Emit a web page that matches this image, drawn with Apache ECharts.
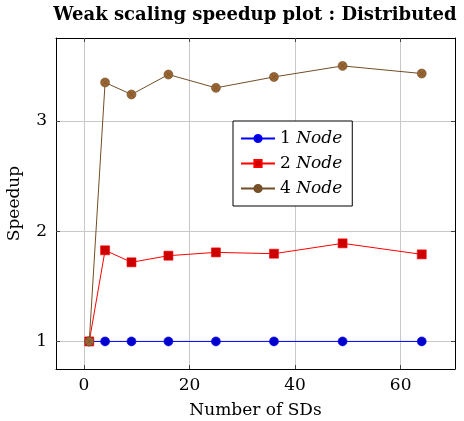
<!DOCTYPE html>
<html><head><meta charset="utf-8">
<script src="https://cdn.jsdelivr.net/npm/echarts@6/dist/echarts.min.js"></script>
<style>html,body{margin:0;padding:0;background:#fff}#c{width:464px;height:421px}</style>
</head><body><div id="c"></div>
<script>
const sds = [1, 4, 9, 16, 25, 36, 49, 64];
const node1 = [1, 1, 1, 1, 1, 1, 1, 1];
const node2 = [1, 1.826, 1.717, 1.777, 1.807, 1.795, 1.889, 1.789];
const node4 = [1, 3.347, 3.238, 3.419, 3.298, 3.397, 3.497, 3.428];
const xTicks = [0, 20, 40, 60];
const yTicks = [1, 2, 3];
const seriesNames = ['1 Node', '2 Node', '4 Node'];

const FONT = '"DejaVu Serif", "Liberation Serif", serif';
const otimes = 'path://M10 0A10 10 0 1 1 -10 0A10 10 0 1 1 10 0ZM7.07 7.07L-7.07 -7.07M7.07 -7.07L-7.07 7.07';
const pairs = v => sds.map((x, i) => [x, v[i]]);

const chart = echarts.init(document.getElementById('c'), null, {renderer: 'canvas'});
const tickStyle = {show: true, inside: true, length: 4, lineStyle: {color: '#444', width: 1}};
const lineStyleAx = {show: true, onZero: false, lineStyle: {color: '#000', width: 1}};
chart.setOption({
  animation: false,
  title: {
    text: 'Weak scaling speedup plot : Distributed',
    left: 250, top: 1, textAlign: 'center',
    textStyle: {fontFamily: FONT, fontWeight: 'bold', fontSize: 18, color: '#000'}
  },
  grid: {left: 56, right: 9, top: 38, bottom: 52, containLabel: false, outerBoundsMode: 'none'},
  legend: {
    orient: 'vertical', left: 233, top: 121,
    backgroundColor: '#fff', borderColor: '#000', borderWidth: 1,
    padding: [9, 10, 9, 7], itemGap: 8, itemWidth: 34, itemHeight: 9,
    data: seriesNames,
    formatter: n => { const p = n.split(' '); return '{n|' + p[0] + ' }{i|' + p[1] + '}'; },
    textStyle: {
      fontFamily: FONT, fontSize: 17, color: '#000',
      rich: {
        n: {fontFamily: FONT, fontSize: 17, lineHeight: 17},
        i: {fontFamily: FONT, fontSize: 17, fontStyle: 'italic', lineHeight: 17}
      }
    }
  },
  xAxis: [{
    type: 'value', min: -5.3, max: 70.3, position: 'bottom',
    name: 'Number of SDs', nameLocation: 'middle', nameGap: 33,
    nameTextStyle: {fontFamily: FONT, fontSize: 17, color: '#000'},
    axisLabel: {customValues: xTicks, fontFamily: FONT, fontSize: 17, color: '#000', margin: 8},
    axisLine: lineStyleAx,
    axisTick: {...tickStyle, customValues: xTicks},
    splitLine: {show: true, lineStyle: {color: '#c8c8c8', width: 1}}
  }, {
    type: 'value', min: -5.3, max: 70.3, position: 'top',
    axisLine: lineStyleAx,
    axisLabel: {show: false},
    axisTick: {...tickStyle, customValues: xTicks},
    splitLine: {show: false}
  }],
  yAxis: [{
    type: 'value', min: 0.75, max: 3.75, position: 'left',
    name: 'Speedup', nameLocation: 'middle', nameGap: 33, nameRotate: 90,
    nameTextStyle: {fontFamily: FONT, fontSize: 17, color: '#000'},
    axisLabel: {customValues: yTicks, fontFamily: FONT, fontSize: 17, color: '#000', margin: 9},
    axisLine: lineStyleAx,
    axisTick: {...tickStyle, customValues: yTicks},
    splitLine: {show: true, lineStyle: {color: '#c8c8c8', width: 1}}
  }, {
    type: 'value', min: 0.75, max: 3.75, position: 'right',
    axisLine: lineStyleAx,
    axisLabel: {show: false},
    axisTick: {...tickStyle, customValues: yTicks},
    splitLine: {show: false}
  }],
  series: [{
    name: seriesNames[0], type: 'line', data: pairs(node1),
    symbol: 'circle', symbolSize: 9,
    lineStyle: {color: '#0000ff', width: 1},
    itemStyle: {color: '#0000cc', borderColor: '#0000ff', borderWidth: 0.6},
    z: 3
  }, {
    name: seriesNames[1], type: 'line', data: pairs(node2),
    symbol: 'rect', symbolSize: 9,
    lineStyle: {color: '#ff0000', width: 1},
    itemStyle: {color: '#cc0000', borderColor: '#ff0000', borderWidth: 0.6},
    z: 4
  }, {
    name: seriesNames[2], type: 'line', data: pairs(node4),
    symbol: otimes, symbolSize: 9,
    lineStyle: {color: '#734d26', width: 1},
    itemStyle: {color: '#996633', borderColor: '#734d26', borderWidth: 0.6},
    z: 5
  }]
});
</script></body></html>
